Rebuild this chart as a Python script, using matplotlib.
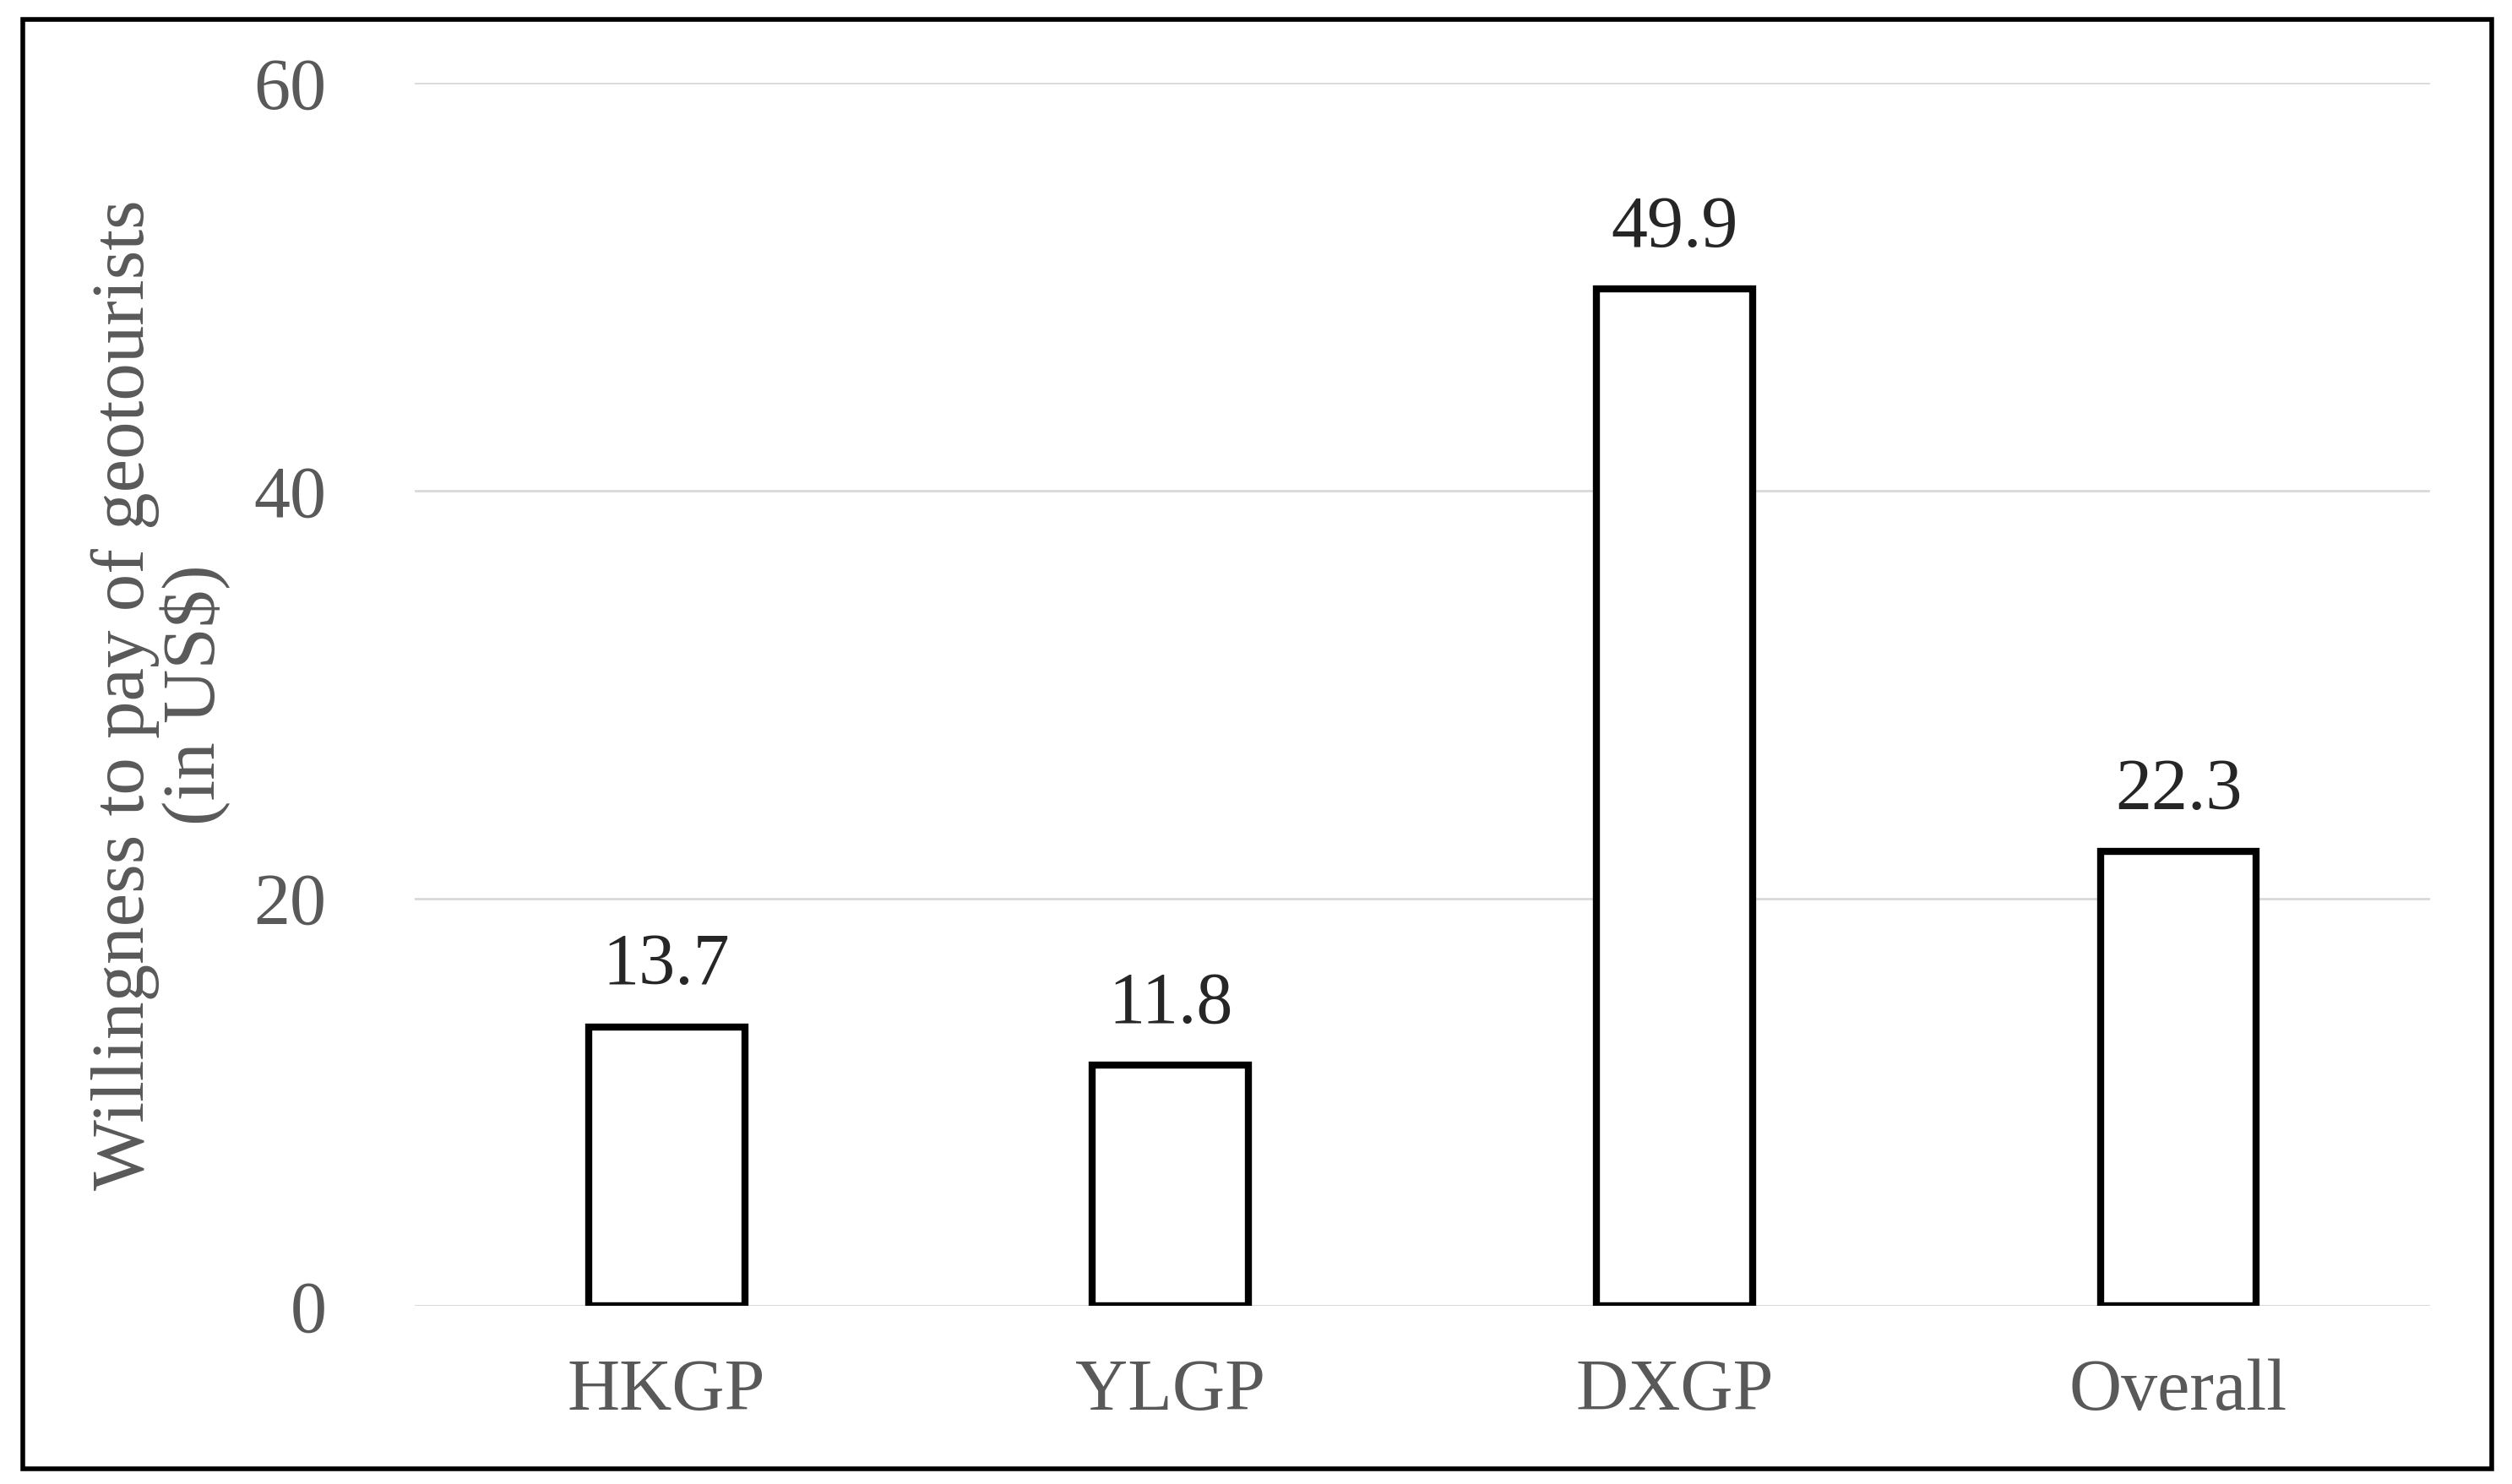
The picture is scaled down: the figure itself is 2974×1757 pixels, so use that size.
import matplotlib
matplotlib.use("Agg")
import matplotlib.pyplot as plt
from matplotlib.patches import Rectangle

categories = ["HKGP", "YLGP", "DXGP", "Overall"]
values = [13.7, 11.8, 49.9, 22.3]
yticks = [0, 20, 40, 60]

plt.rcParams['font.family'] = ['Liberation Serif', 'DejaVu Serif']
fig = plt.figure(figsize=(29.74, 17.57), dpi=100)
ax = fig.add_axes([0.165, 0.120, 0.8025, 0.824])
x = range(len(categories))
ax.bar(x, values, width=0.31, facecolor='white', edgecolor='black', linewidth=6, zorder=3)
for xi, v in zip(x, values):
    ax.text(xi, v + 1.3, f"{v}", ha='center', va='bottom', fontsize=62, color='#262626')
ax.set_xlim(-0.5, 3.5)
ax.set_ylim(0, 60)
ax.set_yticks(yticks)
ax.set_xticks(list(x))
ax.set_xticklabels(categories)
ax.tick_params(axis='both', length=0, labelsize=62, labelcolor='#595959')
ax.tick_params(axis='y', pad=75)
ax.tick_params(axis='x', pad=45)
ax.grid(axis='y', color='#d9d9d9', linewidth=2, zorder=0)
for s in ax.spines.values():
    s.set_visible(False)
ax.axhline(0, color='#d9d9d9', linewidth=2, zorder=1)
ax.set_ylabel("Willingness to pay of geotourists\n(in US$)", fontsize=64, color='#595959', labelpad=20, linespacing=1.0)
fig.patches.append(Rectangle((0.009, 0.01), 0.983, 0.977, transform=fig.transFigure,
                             fill=False, edgecolor='black', linewidth=4))
fig.savefig("out.png", dpi=100)
